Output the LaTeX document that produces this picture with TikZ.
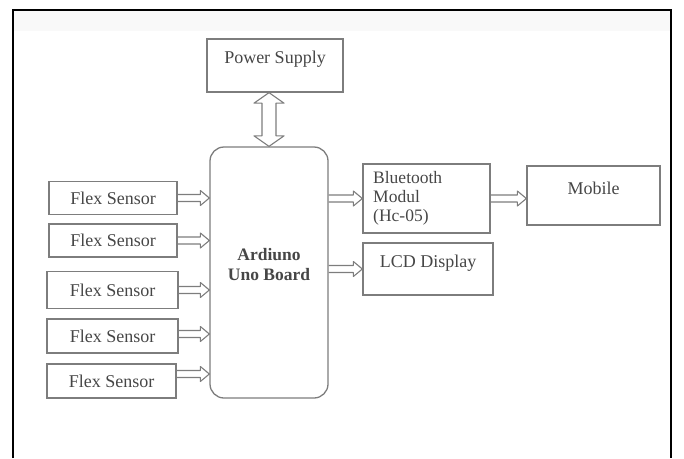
\documentclass[tikz,border=0pt]{standalone}
\usepackage{fontspec}
\setmainfont{Liberation Serif}
\usetikzlibrary{calc}
\definecolor{linegray}{RGB}{125,125,125}
\definecolor{txtgray}{RGB}{70,70,70}
\tikzset{
  blk/.style={draw=linegray, line width=1.3pt, rectangle, inner sep=0pt},
  lbl/.style={text=txtgray, font=\fontsize{18}{20}\selectfont, inner sep=0pt},
  % flecha hueca horizontal
  flow/.style={draw=linegray, line width=1.1pt, line join=round,
    to path={let \p1=(\tikztostart), \p2=(\tikztotarget) in
      (\x1,\y1+3.5pt) -- (\x2-9pt,\y1+3.5pt) -- (\x2-9pt,\y1+7.5pt) -- (\x2,\y1)
      -- (\x2-9pt,\y1-7.5pt) -- (\x2-9pt,\y1-3.5pt) -- (\x1,\y1-3.5pt)}},
  % flecha hueca vertical de dos puntas
  flowboth/.style={draw=linegray, line width=1.1pt, line join=round,
    to path={let \p1=(\tikztostart), \p2=(\tikztotarget) in
      (\x1,\y1) -- (\x1-15pt,\y1-10.5pt) -- (\x1-7pt,\y1-10.5pt) -- (\x1-7pt,\y2+10.5pt)
      -- (\x1-15pt,\y2+10.5pt) -- (\x1,\y2) -- (\x1+15pt,\y2+10.5pt) -- (\x1+7pt,\y2+10.5pt)
      -- (\x1+7pt,\y1-10.5pt) -- (\x1+15pt,\y1-10.5pt) -- cycle}},
}
\begin{document}
\begin{tikzpicture}[x=1pt,y=-1pt]
    \useasboundingbox (0,0) rectangle (684,458);
    % Dibuja el marco
    \fill[gray!5] (13,10) rectangle (671,31);
    \draw[line width=2pt] (13,458) -- (13,10) -- (671,10) -- (671,458);

    % Dibuja los bloques
    \node[blk, minimum width=136pt, minimum height=53pt] (power) at (275,65.5) {};
    \node[lbl, anchor=north] (powertxt) at (275,51) {Power Supply};
    \node[blk, rounded corners=14pt, minimum width=118pt, minimum height=251pt] (uno) at (269,272.5) {};
    \node[lbl, font=\fontsize{17.5}{20}\selectfont\bfseries, align=center] (unotxt) at (269,265) {Ardiuno\\Uno Board};

    % Sensores
    \node[blk, lbl, draw, minimum width=128pt, minimum height=33pt] (s1) at (113,198) {Flex Sensor};
    \node[blk, lbl, draw, minimum width=128pt, minimum height=33pt] (s2) at (113,240.5) {Flex Sensor};
    \node[blk, lbl, draw, minimum width=131pt, minimum height=37pt] (s3) at (112.5,290) {Flex Sensor};
    \node[blk, lbl, draw, minimum width=131pt, minimum height=34pt] (s4) at (112.5,336) {Flex Sensor};
    \node[blk, lbl, draw, minimum width=129pt, minimum height=34pt] (s5) at (111.5,381) {Flex Sensor};
    \coordinate (s4out) at ([yshift=2pt]s4.east);
    \coordinate (s5out) at ([yshift=7pt]s5.east);

    % Salidas
    \node[blk, minimum width=127pt, minimum height=69pt] (bt) at (426.5,198.5) {};
    \node[lbl, anchor=north west, align=left, font=\fontsize{17.5}{19}\selectfont] (bttxt) at (373,171) {Bluetooth\\Modul\\(Hc-05)};
    \node[blk, minimum width=130pt, minimum height=52pt] (lcd) at (428,269) {};
    \node[lbl, anchor=north] (lcdtxt) at (428,255) {LCD Display};
    \node[blk, minimum width=133pt, minimum height=59pt] (mobile) at (593.5,195.5) {};
    \node[lbl, anchor=north] (mobiletxt) at (593.5,182) {Mobile};

    % Flechas
    \draw[flowboth] (uno.north |- power.south) to (uno.north);
    \draw[flow] (s1.east) to (uno.west |- s1.east);
    \draw[flow] (s2.east) to (uno.west |- s2.east);
    \draw[flow] (s3.east) to (uno.west |- s3.east);
    \draw[flow] (s4out) to (uno.west |- s4out);
    \draw[flow] (s5out) to (uno.west |- s5out);
    \draw[flow] (uno.east |- bt.west) to (bt.west);
    \draw[flow] (uno.east |- lcd.west) to (lcd.west);
    \draw[flow] (bt.east) to (mobile.west |- bt.east);
\end{tikzpicture}
\end{document}
